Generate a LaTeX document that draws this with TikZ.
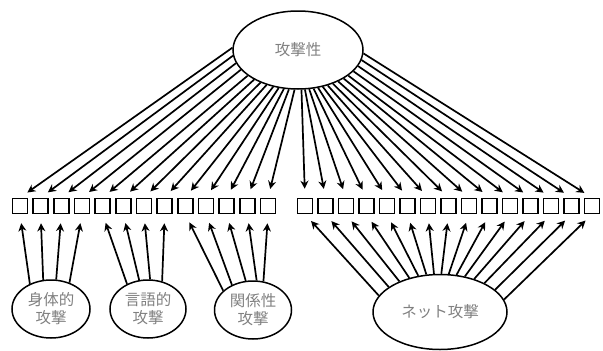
\documentclass[tikz,border=0pt]{standalone}
\usepackage{fontspec}
\newfontfamily\jpfont{Noto Sans CJK JP}
\usepackage{tikz}
\usetikzlibrary{arrows.meta,shapes.geometric}

\begin{document}
\begin{tikzpicture}[x=1pt,y=-1pt,
   item/.style={draw,line width=1.6pt,minimum size=15pt,inner sep=0pt},
   factor/.style={ellipse,draw,line width=1.5pt,inner sep=0pt,align=center,
      font=\jpfont\fontsize{15.5}{18}\selectfont,text=black!50},
   load/.style={-{Stealth[length=8pt,width=8pt,inset=2.5pt]},line width=1.7pt,shorten >=9pt}]
\useasboundingbox (0,0) rectangle (603,351);
% factors
\node[factor,minimum width=130pt,minimum height=78pt] (agg) at (298,50) {攻撃性};
\node[factor,minimum width=78pt,minimum height=58pt] (phys) at (51,309) {身体的\\攻撃};
\node[factor,minimum width=76pt,minimum height=58pt] (verb) at (148,309) {言語的\\攻撃};
\node[factor,minimum width=77pt,minimum height=58pt] (rel) at (253,310) {関係性\\攻撃};
\node[factor,minimum width=134pt,minimum height=75pt] (net) at (440,312) {ネット攻撃};
% items
\foreach \i in {1,...,13} \node[item] (L\i) at ({20+(\i-1)*20.67},206) {};
\foreach \i in {1,...,15} \node[item] (R\i) at ({305+(\i-1)*20.5},206) {};
% general factor loadings
\foreach \i in {1,...,13} \draw[load] (agg.{178+(\i-1)*7.25}) -- (L\i.north);
\foreach \i in {1,...,15} \draw[load] (agg.{275+(\i-1)*5.9}) -- (R\i.north);
% group factor loadings
\foreach \a/\s in {130/1,105/2,80/3,55/4} \draw[load] (phys.\a) -- (L\s.south);
\foreach \a/\s in {130/5,107/6,86/7,63/8} \draw[load] (verb.\a) -- (L\s.south);
\foreach \a/\s in {147/9,130/10,104/11,83/12,70/13} \draw[load] (rel.\a) -- (L\s.south);
\foreach \i in {1,...,15} \draw[load] (net.{165-(\i-1)*11}) -- (R\i.south);
\end{tikzpicture}
\end{document}
